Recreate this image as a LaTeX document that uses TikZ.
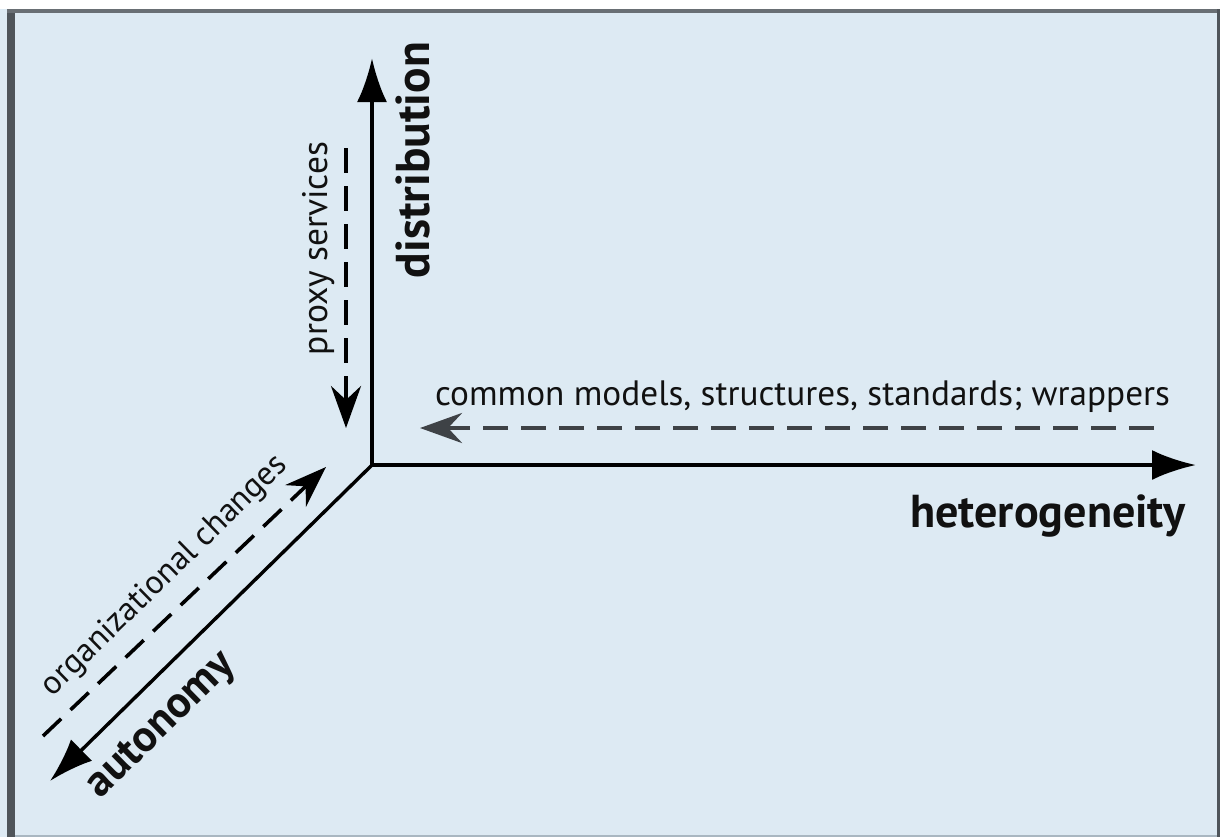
\documentclass[tikz,border=0pt]{standalone}
\usepackage{fontspec}
\setmainfont{PT Sans}
\usetikzlibrary{arrows.meta}
\definecolor{panel}{HTML}{DDEAF3}
\definecolor{frameL}{HTML}{4F555A}
\definecolor{frameT}{HTML}{696F74}
\definecolor{frameB}{HTML}{A9B7C1}
\definecolor{ink}{HTML}{111111}
\definecolor{dashgrey}{HTML}{3E4246}
\newcommand\fitto[2]{\resizebox{#1}{!}{#2}}
\tikzset{
  axis/.style={line width=2pt, draw=black, -{Latex[length=22pt,width=15pt]}},
  hint/.style={line width=2.1pt, draw=black, dash pattern=on 12.5pt off 6.5pt,
               -{Stealth[length=21pt,width=15pt,inset=7pt]}},
  lbl/.style={inner sep=0pt, text=ink},
}
\begin{document}
\begin{tikzpicture}[x=0.5pt,y=-0.5pt]
% page and panel
\useasboundingbox (0,0) rectangle (1220,837);
\fill[white] (0,0) rectangle (1220,837);
\fill[panel] (0,9) rectangle (1220,837);
\fill[frameL] (7,9) rectangle (15,837);
\fill[frameT] (7,9) rectangle (1220,13);
\fill[frameL] (1217,9) rectangle (1220,837);
\fill[frameB] (15,835) rectangle (1217,837);

% axes
\coordinate (O) at (372,465);
\coordinate (dtip) at (372,58);
\coordinate (htip) at (1196,465);
\coordinate (atip) at (50,781);
\draw[axis] (O) -- (dtip);
\draw[axis] (O) -- (htip);
\draw[axis, line width=1.7pt] (O) -- (atip);

% dashed hint arrows
\coordinate (ps0) at (346,148);
\coordinate (ps1) at (346,428);
\draw[hint] (ps0) -- (ps1);
\coordinate (cm0) at (1154,428);
\coordinate (cm1) at (420,428);
\draw[hint, draw=dashgrey, line width=2.4pt] (cm0) -- (cm1);
\coordinate (oc0) at (43,736);
\coordinate (oc1) at (326,467);
\draw[hint, line width=1.8pt] (oc0) -- (oc1);

% labels
\node[lbl, rotate=90, anchor=base] (dist) at (429,160)
  {\fitto{118pt}{\bfseries distribution}};
\node[lbl, anchor=base] (het) at (1047.5,527)
  {\fitto{137.5pt}{\bfseries heterogeneity}};
\node[lbl, rotate=44.4] (aut) at (162,726)
  {\fitto{95pt}{\bfseries autonomy}};
\node[lbl, rotate=90, anchor=base] (proxy) at (327,248.5)
  {\fitto{106.5pt}{proxy services}};
\node[lbl, anchor=base] (common) at (802.5,405)
  {\fitto{367.5pt}{common models, structures, standards; wrappers}};
\node[lbl, rotate=44.4] (org) at (165,576)
  {\fitto{165pt}{organizational changes}};
\end{tikzpicture}
\end{document}
